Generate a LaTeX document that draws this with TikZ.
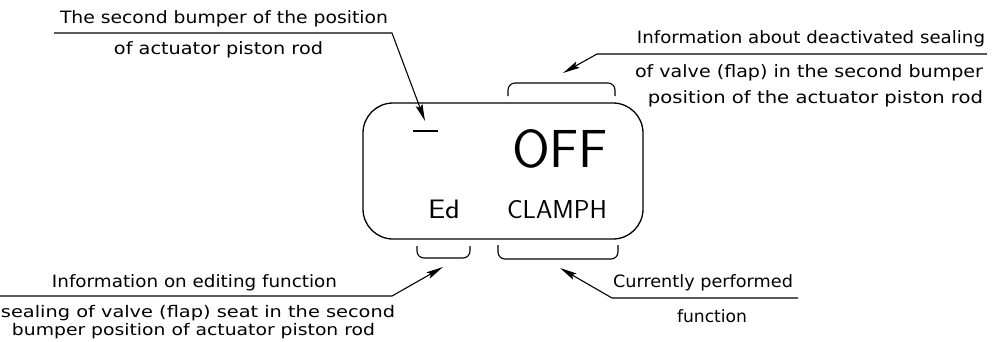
\documentclass[tikz,border=0pt]{standalone}
\usepackage{fontspec}
\setmainfont{DejaVu Sans}
\usetikzlibrary{arrows.meta}
\newcommand{\fitw}[2]{\resizebox{#1pt}{\height}{#2}}
\newcommand{\fitwh}[3]{\resizebox{#1pt}{#2pt}{#3}}
\begin{document}
\begin{tikzpicture}[x=1pt,y=-1pt,
  lbl/.style={inner sep=0pt, anchor=base, font=\fontsize{17}{17}\selectfont},
  lblsmall/.style={inner sep=0pt, anchor=base, font=\fontsize{16}{16}\selectfont},
  disptext/.style={inner sep=0pt, anchor=base, font=\sffamily\fontsize{25}{25}\selectfont},
  bigtext/.style={inner sep=0pt, anchor=base, font=\sffamily\fontsize{52}{52}\selectfont},
  leader/.style={line width=1.1pt, -{Stealth[length=17pt,width=7pt,inset=3pt]}},
  brk/.style={line width=1.1pt, rounded corners=7pt},
  displaybox/.style={draw, line width=1.3pt, rounded corners=30pt, inner sep=0pt,
    minimum width=280pt, minimum height=136pt}]
\useasboundingbox (0,0) rectangle (998,341);
\fill[white] (0,0) rectangle (998,341);

% display
\node[displaybox] (disp) at (503,171) {};
\draw[line width=1.3pt] (413,131) coordinate (bar1) -- (438,131) coordinate (bar2);
\node[bigtext] (off) at (560,167) {\fitwh{96}{38}{OFF}};
\node[disptext] (ed) at (444,218) {\fitwh{32}{18.5}{Ed}};
\node[disptext] (clamph) at (557,218) {\fitwh{100}{18}{CLAMPH}};

% brackets
\draw[brk] (508,96) -- (508,83) -- (615,83) -- (615,96);
\draw[brk] (417,246) -- (417,258) -- (470,258) -- (470,246);
\draw[brk] (498,245) -- (498,259) -- (618,259) -- (618,245);

% callout 1
\node[lbl] (t1a) at (224,23) {\fitw{328}{The second bumper of the position}};
\node[lbl] (t1b) at (218.5,54) {\fitw{209}{of actuator piston rod}};
\coordinate (h1s) at (54,33);
\coordinate (h1e) at (392,33);
\coordinate (a1) at (425,121);
\draw[leader] (h1s) -- (h1e) -- (a1);

% callout 2
\node[lbl] (t2a) at (811,43) {\fitw{348}{Information about deactivated sealing}};
\node[lbl] (t2b) at (809,77) {\fitw{348}{of valve (flap) in the second bumper}};
\node[lbl] (t2c) at (815.5,103) {\fitw{335}{position of the actuator piston rod}};
\coordinate (h2s) at (987,54);
\coordinate (h2e) at (597,54);
\coordinate (a2) at (563,73);
\draw[leader] (h2s) -- (h2e) -- (a2);

% callout 3
\node[lbl] (t3a) at (194.5,287) {\fitw{285}{Information on editing function}};
\node[lblsmall] (t3b) at (198,317.5) {\fitw{394}{sealing of valve (flap) seat in the second}};
\node[lblsmall] (t3c) at (193.5,335.5) {\fitw{363}{bumper position of actuator piston rod}};
\coordinate (h3s) at (0,296);
\coordinate (h3e) at (392,296);
\coordinate (a3) at (443,267);
\draw[leader] (h3s) -- (h3e) -- (a3);

% callout 4
\node[lbl] (t4a) at (703,287) {\fitw{180}{Currently performed}};
\node[lbl] (t4b) at (712,322) {\fitw{70}{function}};
\coordinate (h4s) at (798,298);
\coordinate (h4e) at (612,298);
\coordinate (a4) at (560,268);
\draw[leader] (h4s) -- (h4e) -- (a4);
\end{tikzpicture}
\end{document}
